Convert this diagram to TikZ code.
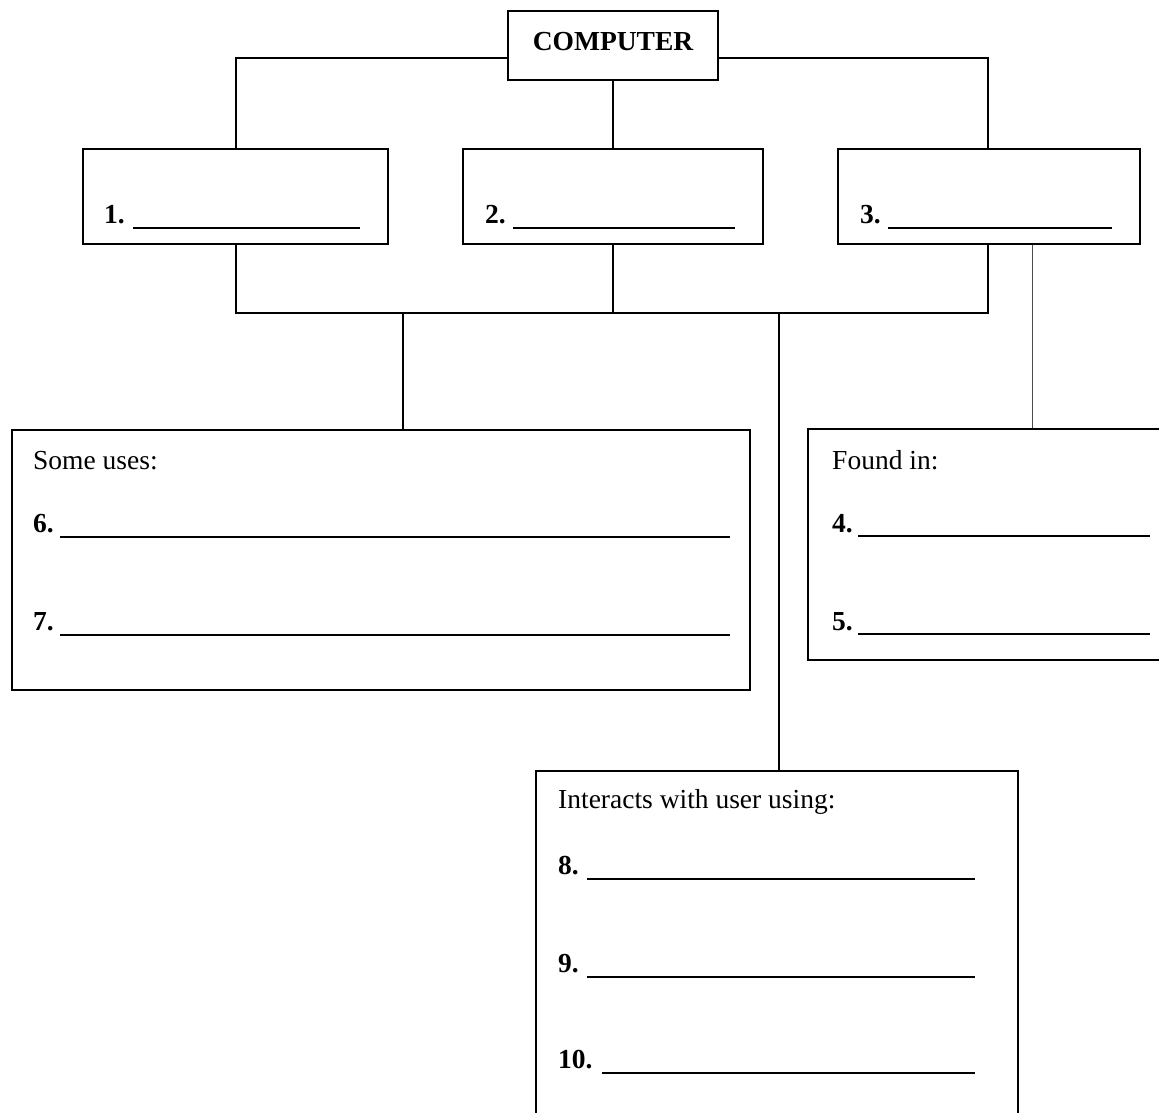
\documentclass[tikz,border=0pt]{standalone}
\usepackage{fontspec}
\setmainfont{Liberation Serif}
\usetikzlibrary{calc}
\begin{document}
\begin{tikzpicture}[x=1pt,y=-1pt,
  box/.style={draw,line width=1.6pt,rectangle,inner sep=0pt},
  conn/.style={line width=1.2pt},
  blank/.style={line width=1.4pt},
  txt/.style={inner sep=0pt,anchor=base west,font=\fontsize{27.5}{33}\selectfont},
  num/.style={txt,font=\fontsize{27.5}{33}\selectfont\bfseries}]
\useasboundingbox (0,0) rectangle (1159,1112);
% boxes
\node[box,minimum width=210pt,minimum height=69pt] (comp) at (613,45.5) {};
\node[num,anchor=base] (comptxt) at (613,50) {COMPUTER};
\node[box,minimum width=305pt,minimum height=95pt] (b1) at (235.5,196.5) {};
\node[box,minimum width=300pt,minimum height=95pt] (b2) at (613,196.5) {};
\node[box,minimum width=302pt,minimum height=95pt] (b3) at (989,196.5) {};
\node[box,minimum width=738pt,minimum height=260pt] (uses) at (381,560) {};
\node[box,minimum width=362pt,minimum height=231pt] (found) at (989,544.5) {};
\node[box,minimum width=482pt,minimum height=349pt] (inter) at (777,945.5) {};
% connectors top
\coordinate (jl) at (236,58);
\coordinate (jr) at (988,58);
\draw[conn] ($(comp.west)+(0,12.5)$) -- (jl) -- (jl |- b1.north);
\draw[conn] ($(comp.east)+(0,12.5)$) -- (jr) -- (jr |- b3.north);
\draw[conn] (comp.south) -- (b2.north);
% bus
\coordinate (busl) at (236,313);
\coordinate (busr) at (988,313);
\draw[conn] (busl |- b1.south) -- (busl) -- (busr) -- (busr |- b3.south);
\draw[conn] (b2.south) -- (b2.south |- busl);
\coordinate (du) at (403,313);
\coordinate (di) at (779,313);
\draw[conn] (du) -- (du |- uses.north);
\draw[conn] (di) -- (di |- inter.north);
\coordinate (df) at (1032,243);
\draw[conn,line width=0.9pt,black!70] (df |- b3.south) -- (df |- found.north);
% row labels
\node[num] (n1) at (104,223) {1.};
\draw[blank] (133,228) -- (360,228);
\node[num] (n2) at (485,223) {2.};
\draw[blank] (513,228) -- (735,228);
\node[num] (n3) at (860,223) {3.};
\draw[blank] (888,228) -- (1112,228);
% uses
\node[txt] (tuses) at (33,469) {Some uses:};
\node[num] (n6) at (33,532) {6.};
\draw[blank] (60,537) -- (730,537);
\node[num] (n7) at (33,630) {7.};
\draw[blank] (60,635) -- (730,635);
% found
\node[txt] (tfound) at (832,469) {Found in:};
\node[num] (n4) at (832,532) {4.};
\draw[blank] (858,536) -- (1150,536);
\node[num] (n5) at (832,630) {5.};
\draw[blank] (858,634) -- (1150,634);
% interacts
\node[txt] (tinter) at (558,808) {Interacts with user using:};
\node[num] (n8) at (558,874) {8.};
\draw[blank] (587,879) -- (975,879);
\node[num] (n9) at (558,972) {9.};
\draw[blank] (587,977) -- (975,977);
\node[num] (n10) at (558,1068) {10.};
\draw[blank] (602,1073) -- (975,1073);
\end{tikzpicture}
\end{document}
